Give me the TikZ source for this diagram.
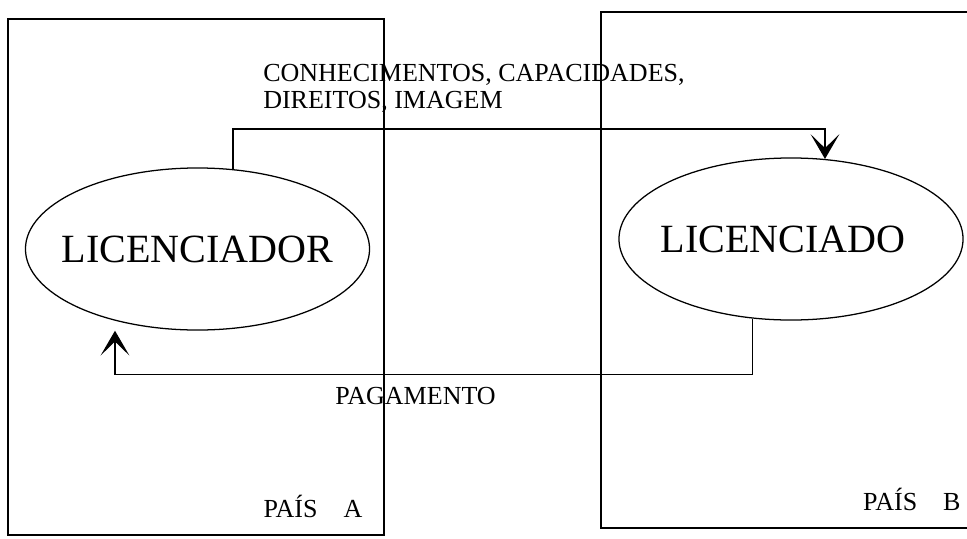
\documentclass[tikz,border=0pt]{standalone}
\usepackage{fontspec}
\setmainfont{Liberation Serif}
\usetikzlibrary{positioning, shapes.geometric, arrows.meta}
\tikzset{
country/.style={
  draw, 
  rectangle, 
  line width=0.9pt, 
  minimum width=9.4cm, 
  minimum height=12.9cm
  }, 
party/.style={
  draw, 
  ellipse, 
  line width=0.9pt, 
  inner sep=0pt, 
  minimum width=8.6cm, 
  minimum height=4.05cm, 
  font=\fontsize{28.5}{30}\selectfont
  }, 
tag/.style={inner sep=0pt, align=left, font=\fontsize{18.5}{19.3}\selectfont}, 
line/.style={line width=0.9pt, -{Stealth[length=0.62cm, width=0.72cm, inset=0.35cm]}}
}

\begin{document}
\begin{tikzpicture}[x=0.025cm, y=-0.025cm]
\useasboundingbox (0,0) rectangle (967,539);
\clip (0,0) rectangle (967,539);

\node[country]	(paisA)		at (196,277)		{};
\node[country]	(paisB)		at (789,270)		{};
\node[party]	(licenciador)	at (197.5,249)	{\makebox[0pt]{LICENCIADOR}};
\node[party]	(licenciado)	at (791,239)		{\makebox[0pt]{LICENCIADO\hspace{0.4cm}}};

\node[tag, anchor=north west]	(transfer)	at (263,64)		{CONHECIMENTOS, CAPACIDADES, \\ DIREITOS, IMAGEM};
\node[tag, anchor=north west]	(payment)	at (335,387)	{PAGAMENTO};
\node[tag]	(labelA)	[above left=0.45cm and 0.55cm of paisA.south east]	{PAÍS\quad A};
\node[tag]	(labelB)	[above left=0.45cm and 0.42cm of paisB.south east]	{PAÍS\quad B};

\draw[line] (licenciador.66) -- ++(0,-40) -| (licenciado.67);
\draw[line, shorten >=0.25cm] (licenciado.244) -- ++(0,56) -| (licenciador.221);
\end{tikzpicture}
\end{document}
